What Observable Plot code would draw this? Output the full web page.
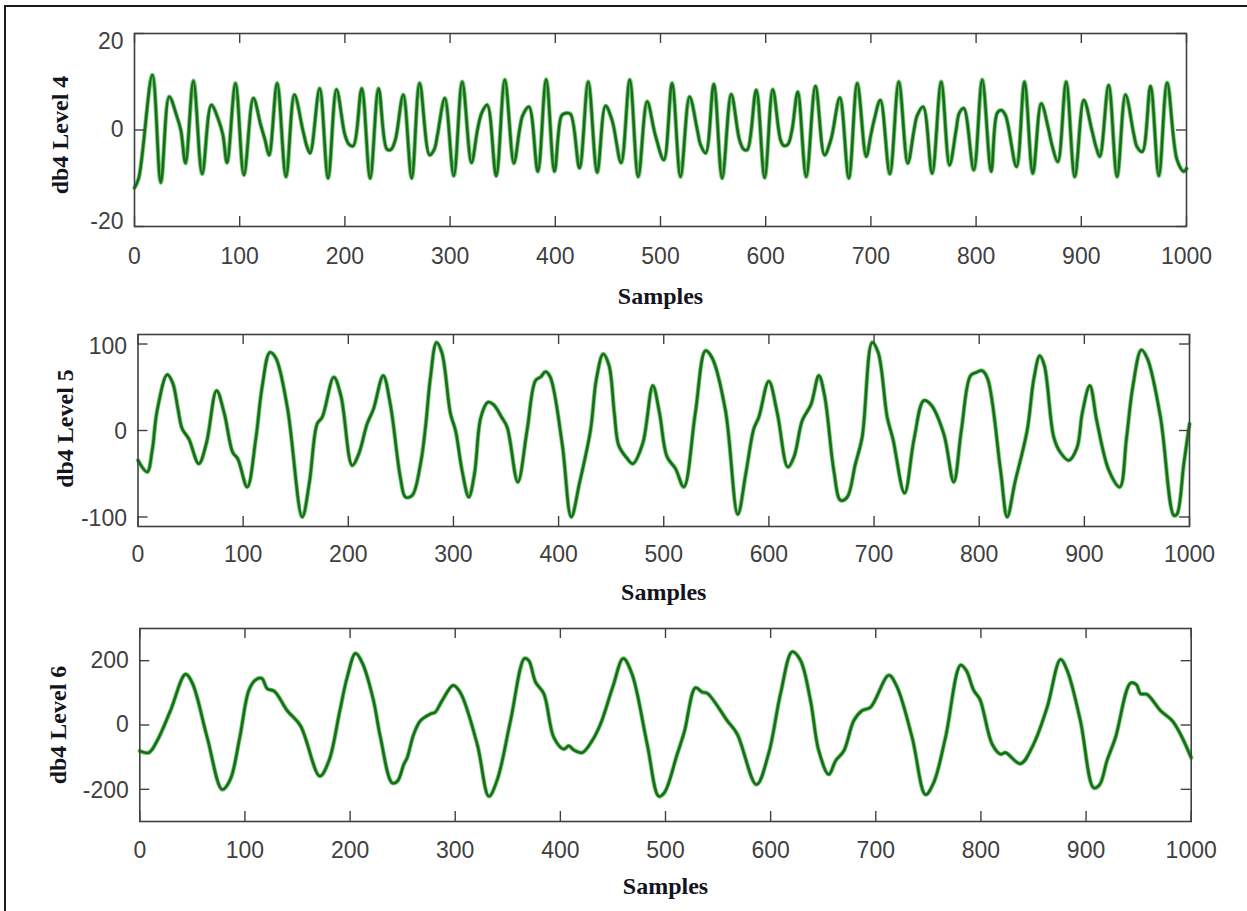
<!DOCTYPE html>
<html><head><meta charset="utf-8">
<script src="https://cdn.jsdelivr.net/npm/d3@7"></script>
<script src="https://cdn.jsdelivr.net/npm/@observablehq/plot@0.6"></script>
<style>
body{margin:0;background:#fff;width:1247px;height:911px;overflow:hidden;position:relative;}
#border{position:absolute;left:4px;top:5px;width:1243px;height:906px;border-top:2px solid #1a1a1a;border-left:2px solid #1a1a1a;box-sizing:border-box;}
.panel{position:absolute;left:0;}
.panel svg{overflow:visible;}
</style></head><body>
<div id="border"></div>
<div id="p1" class="panel" style="top:0px"></div>
<div id="p2" class="panel" style="top:300px"></div>
<div id="p3" class="panel" style="top:600px"></div>
<script>
// ---------- data ----------
const xTicks = [0, 100, 200, 300, 400, 500, 600, 700, 800, 900, 1000];
const xLabel = "Samples";

const l4Label = "db4 Level 4";
const l4Ticks = [-20, 0, 20];
const l4Samples = [0,4,17,25,33,40,44,48.5,56,64.3,73,80,84,88,96,104,113,120,124,128,135.6,144,152,160,164,167,176,184,192,200,204,208,216,224,232,240,244,248,255.5,263.5,271,280.5,285,288,295,303.5,311.5,320.3,326,330,335.3,343.8,352,360.6,366,369,375,383.4,391.3,399.2,406,410,414.5,423,431.3,439.8,447.7,454,462.6,470.8,478.8,487.3,495,503.2,511,519,527.6,535,538,543,550.7,558.6,567.2,575,579,582.5,591,599,606.7,614,617,621,625,630.5,638.5,647.3,655.9,662,670.5,679,687,695.5,700,703,709,718,726.5,735,741,744,749.7,758.2,766.8,774.7,781,784,788.3,797.8,805.8,814.3,820,824,828,838.4,846,853.9,861.9,869,872,877.7,885.6,893.8,902.4,910,914,917.6,926,934,942,950,953,958,965.8,973.7,981.6,991,997.4,1000];
const l4Values = [-12,-10,11.4,-10.9,6.9,3,0,-6.9,10.2,-9.1,5.2,2,-1,-6.8,9.7,-9.3,6.6,1,-2,-5.2,9.7,-9.7,7.3,0,-3.5,-4.8,8.6,-10,8.4,-1,-3,-3.3,8.6,-10,8.6,-4,-4,-2,7.3,-10,9.7,-5.2,-4,-1,6.6,-9.5,10,-6.8,0,3.5,5.2,-9.5,10.4,-6.9,0,3,4.8,-8.6,10.5,-8.6,3,3.5,3.3,-7.9,10,-8.8,5,2,-6.8,10.4,-9.7,5.9,-1,-6.2,9.7,-9.7,6.9,0,-3,-4.8,9.5,-10,7.4,-2,-4,-4.1,8.3,-9.9,8.4,-2,-3.2,-3,0,7.9,-9.7,9.1,-5.2,-2,6.7,-10,9.7,-5.5,-1,2,6.2,-9.1,10,-6.9,0,3,4.8,-9,10,-7.3,0,3.5,4.5,-8.3,10.4,-8.6,3.5,4.1,3,-7.6,10,-9,5.5,0,-3,-6.6,10,-9.7,6.2,0,-3.5,-5.5,9.3,-9.7,7.3,-1,-3.5,-4.5,9.1,-9.5,9.8,-6.2,-8.6,-8];

const l5Label = "db4 Level 5";
const l5Ticks = [-100, 0, 100];
const l5Samples = [0,8.7,13.5,18.2,27.8,33,38,42,48.3,57.8,65,74.7,82,90,95,103.9,112,118,125.4,131,142,156.2,163,170.4,175.2,186.2,193,203.7,210,217.9,224,233.2,240,249.6,254.4,260.8,268.7,273.4,278,283.9,289,297.2,302,308,314.6,320,326,332.7,338,346,351.1,361.2,370,378,383,387.5,392,403.4,412,420,430.3,436,442.4,448,453,457.2,465,470.6,480,489.6,496,503,511.2,519.1,530,539.7,546,558.7,570.4,578,585.6,590.4,599.9,608,618,624,631.7,640,647.5,653,661.7,668.1,674.5,682,688.7,698.2,704,712.5,718,729,738,747.3,754,766.3,775.8,783,791.7,797,802.8,808,820.3,826.6,834,845.6,852,857.6,862,870.9,877,885.2,893,898,905.2,912,923.3,933.7,940,946,954.2,960,972.4,985.1,988,994.6,1000];
const l5Values = [-34.6,-48,-23,23,64.6,55,25,2,-9.6,-38.4,-15,46.1,20,-25,-33,-65.4,-10,50,90.3,84,27,-100,-60,7.7,15.4,61.5,40,-40.4,-27,7.7,25,63.4,30,-55,-77,-75,-38.4,3.8,60,101.8,90,19.2,0,-45,-77,-50,15,32.7,30,15,3.8,-59.6,0,57.7,62,68,62,-15.4,-100,-60,0,60,88.5,75,20,-17.3,-32,-38.4,-15,51.9,20,-30,-44.2,-65.4,20,92.3,84,23.1,-96.9,-50,1.9,15.4,56.9,20,-42.3,-30,11.5,30,63.4,40,-46,-80.7,-77,-40,-7.7,101.8,90,15.4,-10,-72.3,-10,34.6,30,-3.8,-59.6,0,63.4,67,69.2,60,-46,-100,-60,0,60,86.5,75,-7.7,-25,-34.6,-20,20,51.9,10,-46,-65.4,-10,50,93.1,83,15.4,-98.1,-97,-38.4,7.7];

const l6Label = "db4 Level 6";
const l6Ticks = [-200, 0, 200];
const l6Samples = [0,8.6,16.5,29.2,43.5,50,64.1,78.4,86,95,103.7,110,116,121.2,128,140.2,152.8,171.2,180,190,197.3,205.2,212,222,228.9,240,245,251.1,254.3,260.6,267,276.5,281,287.6,298.1,305,320.9,332,340,352.6,365.9,370,376.4,384.3,393.8,403.3,408,413,420.8,430,438.2,450,459.8,468,482.6,493.6,499,511.1,518,528.5,534.9,540,558.7,568.2,586.5,598,609.4,620.5,628.3,637.9,645.8,655.3,662,669.6,679.1,687,695,712.4,720,734.6,747.3,755,766.3,780.6,786,793.2,799,810.7,818.7,823.4,837.6,850,863,875.7,882,894.6,907.3,913,920,928,942.3,948,951.8,958,970.8,981.9,990,1000];
const l6Values = [-80.6,-85.9,-49,44.8,157.7,130,-38.9,-200.6,-170,-40,107.5,140,145,112.9,105,44.8,-2.2,-158.9,-110,40,149.2,222.6,190,80,-38.9,-180,-175,-122.3,-101.6,-28.2,13.5,34.5,40,76.2,123.2,100,-59.6,-221.6,-170,13.5,206.9,200,133.5,97.2,-38.9,-75.2,-64.9,-78,-85.9,-50,3.1,120,206.9,160,-59.6,-221.6,-210,-90.9,-20,116,102.2,98,13.5,-28.2,-185,-90,97.2,227.6,201.6,76.2,-80.6,-153.6,-110,-80.6,13.5,44.8,55,154.5,120,-38.9,-216.3,-180,-38.9,185.9,170,107.5,80,-59.6,-90.9,-85.9,-120.4,-60,55.2,203.8,170,13.5,-195.6,-185,-110,-38.9,130.4,125,97.2,95,44.8,13.5,-30,-101.6];

// ---------- drawing ----------
const tickFont = "'Liberation Sans', Arial, sans-serif";
const labelFont = "'Liberation Serif', 'Times New Roman', serif";
const axisColor = "#404040";
const plainNum = d => String(d);

function panel(el, cfg) {
  const {samples, values, yDomain, yTicks, yLabel, mt, ih, mb, ml, mr, xPad, yNudge, labelDx, labelDy, samplesDy} = cfg;
  const width = 1247;
  const iw = width - ml - mr;
  const rows = samples.map((s, i) => ({s, v: values[i]}));
  const yAxes = yTicks.map((t, i) => Plot.axisY([t], {
    anchor: "left", tickSize: 0, tickPadding: 11, label: null, tickFormat: plainNum,
    fontSize: 23, fontFamily: tickFont, fill: "#3f3f3f", dy: yNudge[i]
  }));
  const chart = Plot.plot({
    width, height: mt + ih + mb,
    marginTop: mt, marginBottom: mb, marginLeft: ml, marginRight: mr,
    style: {background: "transparent", color: axisColor, fontFamily: tickFont},
    x: {domain: [0, 1000], label: null},
    y: {domain: yDomain, label: null},
    marks: [
      Plot.line(rows, {x: "s", y: "v", curve: "catmull-rom", stroke: "#3cb43c", strokeWidth: 4.4, strokeOpacity: 0.7}),
      Plot.line(rows, {x: "s", y: "v", curve: "catmull-rom", stroke: "#186c1a", strokeWidth: 2.6}),
      Plot.tickX(xTicks, {x: d => d, insetTop: ih - 10, stroke: axisColor, strokeWidth: 1.4}),
      Plot.tickX(xTicks, {x: d => d, insetBottom: ih - 10, stroke: axisColor, strokeWidth: 1.4}),
      Plot.tickY(yTicks, {y: d => d, insetRight: iw - 10, stroke: axisColor, strokeWidth: 1.4}),
      Plot.tickY(yTicks, {y: d => d, insetLeft: iw - 10, stroke: axisColor, strokeWidth: 1.4}),
      Plot.frame({stroke: axisColor, strokeWidth: 1.6}),
      Plot.axisX(xTicks, {anchor: "bottom", tickSize: 0, tickPadding: xPad, label: null, tickFormat: plainNum,
        fontSize: 23, fontFamily: tickFont, fill: "#3f3f3f"}),
      ...yAxes,
      Plot.text([yLabel], {text: d => d, frameAnchor: "left", textAnchor: "middle", lineAnchor: "middle",
        dx: labelDx, dy: labelDy, rotate: -90,
        fontSize: 24, fontWeight: "bold", fontFamily: labelFont, fill: "#141420"}),
      Plot.text([xLabel], {text: d => d, frameAnchor: "bottom", textAnchor: "middle", lineAnchor: "middle",
        dy: samplesDy,
        fontSize: 24, fontWeight: "bold", fontFamily: labelFont, fill: "#141420"})
    ]
  });
  document.getElementById(el).appendChild(chart);
}

panel("p1", {samples: l4Samples, values: l4Values, yDomain: [-20, 20], yTicks: l4Ticks, yLabel: l4Label,
  mt: 33, ih: 193, mb: 74, ml: 134, mr: 61, xPad: 21, yNudge: [-5, 0, 8], labelDx: -74, labelDy: 5, samplesDy: 70});
panel("p2", {samples: l5Samples, values: l5Values, yDomain: [-111, 111], yTicks: l5Ticks, yLabel: l5Label,
  mt: 34, ih: 192, mb: 74, ml: 137.5, mr: 58, xPad: 19, yNudge: [2, 1, 3], labelDx: -72.5, labelDy: -2, samplesDy: 66});
panel("p3", {samples: l6Samples, values: l6Values, yDomain: [-300, 300], yTicks: l6Ticks, yLabel: l6Label,
  mt: 28, ih: 193, mb: 90, ml: 139.3, mr: 56.3, xPad: 20, yNudge: [1, 0, 0], labelDx: -81, labelDy: 0, samplesDy: 65});
</script>
</body></html>
